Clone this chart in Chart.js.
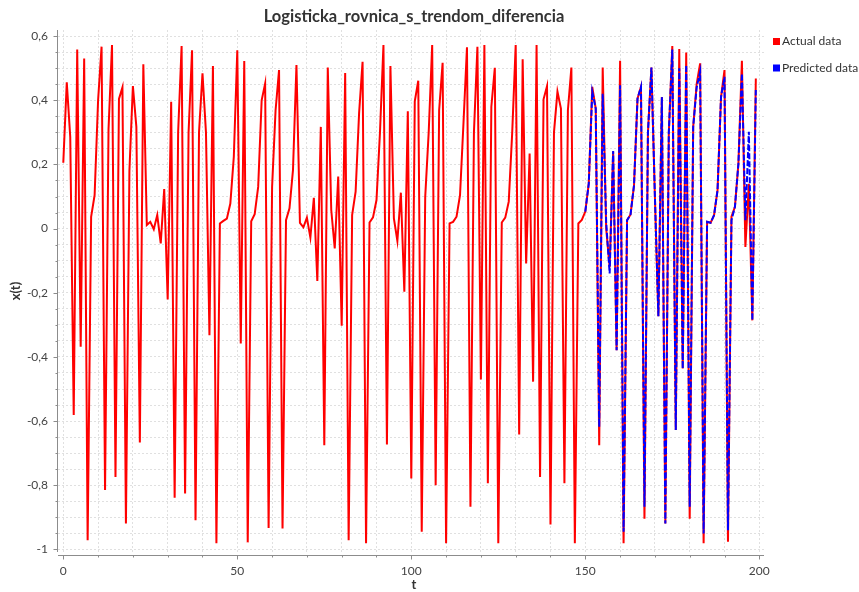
<!DOCTYPE html>
<html>
<head>
<meta charset="utf-8">
<script src="https://cdn.jsdelivr.net/npm/chart.js@4/dist/chart.umd.min.js"></script>
<style>
  html, body { margin: 0; padding: 0; background: #ffffff; }
  #wrap { width: 859px; height: 592px; }
</style>
</head>
<body>
<div id="wrap"><canvas id="chart" width="859" height="592"></canvas></div>
<script>
// ---- text ----
const chartTitle = 'Logisticka_rovnica_s_trendom_diferencia';
const xAxisTitle = 't';
const yAxisTitle = 'x(t)';
const seriesNames = ['Actual data', 'Predicted data'];

// ---- series values ----
const actualStart = 0;
const actualValues = [
  0.205, 0.456, 0.286, -0.581, 0.558, -0.368, 0.530, -0.971, 0.037, 0.104,
  0.400, 0.567, -0.815, 0.310, 0.572, -0.774, 0.404, 0.440, -0.919, 0.180,
  0.444, 0.317, -0.667, 0.512, 0.011, 0.021, -0.002, 0.042, -0.046, 0.123,
  -0.221, 0.395, -0.839, 0.300, 0.569, -0.826, 0.300, 0.556, -0.909, 0.300,
  0.484, 0.300, -0.332, 0.507, -0.981, 0.016, 0.024, 0.031, 0.078, 0.224,
  0.556, -0.358, 0.522, -0.978, 0.023, 0.045, 0.130, 0.400, 0.452, -0.933,
  0.130, 0.369, 0.494, -0.935, 0.026, 0.063, 0.182, 0.510, 0.018, 0.004,
  0.034, -0.028, 0.096, -0.163, 0.317, -0.675, 0.502, 0.058, -0.062, 0.162,
  -0.303, 0.485, -0.971, 0.042, 0.115, 0.360, 0.520, -0.981, 0.019, 0.035,
  0.089, 0.300, 0.572, -0.673, 0.507, 0.032, -0.038, 0.112, -0.197, 0.366,
  -0.779, 0.397, 0.461, -0.945, 0.099, 0.300, 0.572, -0.800, 0.369, 0.517,
  -0.981, 0.016, 0.021, 0.037, 0.104, 0.330, 0.565, -0.867, 0.300, 0.567,
  -0.470, 0.572, -0.794, 0.380, 0.501, -0.981, 0.019, 0.034, 0.084, 0.300,
  0.572, -0.642, 0.528, -0.109, 0.234, -0.477, 0.572, -0.774, 0.403, 0.444,
  -0.922, 0.300, 0.427, 0.374, -0.794, 0.369, 0.502, -0.981, 0.016, 0.027,
  0.053, 0.141, 0.442, 0.374, -0.675, 0.502, 0.000, -0.120, 0.240, -0.379,
  0.523, -0.981, 0.026, 0.044, 0.135, 0.405, 0.442, -0.904, 0.300, 0.502,
  0.100, -0.273, 0.410, -0.919, 0.300, 0.569, -0.628, 0.560, -0.436, 0.549,
  -0.904, 0.317, 0.450, 0.515, -0.981, 0.021, 0.018, 0.042, 0.120, 0.410,
  0.494, -0.976, 0.037, 0.068, 0.203, 0.523, -0.057, 0.140, -0.286, 0.468
];

const predictedStart = 150;
const predictedValues = [
  0.053, 0.141, 0.427, 0.374, -0.618, 0.420, 0.020, -0.140, 0.242, -0.379,
  0.447, -0.945, 0.026, 0.044, 0.135, 0.405, 0.442, -0.867, 0.300, 0.502,
  0.100, -0.273, 0.410, -0.919, 0.300, 0.558, -0.628, 0.500, -0.436, 0.510,
  -0.867, 0.317, 0.440, 0.489, -0.950, 0.021, 0.018, 0.042, 0.120, 0.410,
  0.473, -0.940, 0.026, 0.068, 0.203, 0.483, 0.026, 0.302, -0.286, 0.432
];

// ---- axes ----
const xRange = [-1.52, 201.35];
const yRange = [-1.008, 0.619];
const xGridStep = 10;
const yGridStep = 0.05;
const xLabelTicks = [0, 50, 100, 150, 200];
const yLabelTicks = [-1, -0.8, -0.6, -0.4, -0.2, 0, 0.2, 0.4, 0.6];

const FONT = 'Lato, "DejaVu Sans", sans-serif';
const TEXT = '#444444';
const AXIS = '#8c8c8c';
const GRID = '#e0e0e0';

function gridValues(lo, hi, step) {
  const out = [];
  const first = Math.ceil(lo / step - 1e-9);
  const last = Math.floor(hi / step + 1e-9);
  for (let k = first; k <= last; k++) out.push(+(k * step).toFixed(6));
  return out;
}
const isLabelled = (list, v) => list.some(t => Math.abs(t - v) < 1e-6);
const fmtY = v => (Math.abs(v - Math.round(v)) < 1e-6 ? String(Math.round(v)) : v.toFixed(1)).replace('.', ',');

const toPoints = (start, vals) => vals.map((v, i) => ({ x: start + i, y: v }));

// axis lines, tick marks, titles and legend
const decorations = {
  id: 'decorations',
  afterDraw(chart) {
    const { ctx, chartArea: a, scales: { x, y } } = chart;
    ctx.save();
    ctx.strokeStyle = AXIS;
    ctx.lineWidth = 1;
    const axisX = a.left - 0.5;
    const axisY = a.bottom + 3.5;
    ctx.beginPath();
    ctx.moveTo(axisX, a.top); ctx.lineTo(axisX, a.bottom);
    ctx.moveTo(a.left, axisY); ctx.lineTo(a.right, axisY);
    gridValues(xRange[0], xRange[1], xGridStep).forEach(v => {
      const px = Math.round(x.getPixelForValue(v)) + 0.5;
      const len = isLabelled(xLabelTicks, v) ? 4 : 2;
      ctx.moveTo(px, axisY); ctx.lineTo(px, axisY + len);
    });
    gridValues(yRange[0], yRange[1], yGridStep).forEach(v => {
      const py = Math.round(y.getPixelForValue(v)) + 0.5;
      const len = isLabelled(yLabelTicks, v) ? 4 : 2;
      ctx.moveTo(axisX, py); ctx.lineTo(axisX - len, py);
    });
    ctx.stroke();

    ctx.fillStyle = '#333333';
    ctx.textAlign = 'center';
    ctx.textBaseline = 'middle';
    ctx.font = 'bold 16.5px ' + FONT;
    ctx.fillText(chartTitle, (a.left + a.right) / 2 + 3, 17);

    ctx.font = 'bold 13px ' + FONT;
    ctx.fillText(xAxisTitle, (a.left + a.right) / 2 + 3, 585);
    ctx.save();
    ctx.translate(16, (a.top + a.bottom) / 2);
    ctx.rotate(-Math.PI / 2);
    ctx.fillText(yAxisTitle, 0, 0);
    ctx.restore();

    ctx.font = '12px ' + FONT;
    ctx.textAlign = 'left';
    chart.data.datasets.slice().sort((p, q) => p.legendIndex - q.legendIndex).forEach((ds, i) => {
      const cy = 41 + i * 26.5;
      ctx.fillStyle = ds.borderColor;
      ctx.fillRect(773, cy - 3, 7, 7);
      ctx.fillStyle = '#333333';
      ctx.fillText(ds.label, 782, cy + 0.5);
    });
    ctx.restore();
  }
};

new Chart(document.getElementById('chart'), {
  type: 'line',
  data: {
    datasets: [
      {
        label: seriesNames[1],
        legendIndex: 1,
        data: toPoints(predictedStart, predictedValues),
        borderColor: '#0000ff',
        borderWidth: 2,
        borderDash: [6, 2],
        pointRadius: 0,
        tension: 0,
        fill: false,
        order: 0
      },
      {
        label: seriesNames[0],
        legendIndex: 0,
        data: toPoints(actualStart, actualValues),
        borderColor: '#ff0000',
        borderWidth: 2,
        pointRadius: 0,
        tension: 0,
        fill: false,
        order: 1
      }
    ]
  },
  options: {
    responsive: false,
    animation: false,
    devicePixelRatio: 1,
    layout: { padding: { top: 30, right: 95, left: 0, bottom: 0 } },
    plugins: { legend: { display: false }, title: { display: false }, tooltip: { enabled: false } },
    scales: {
      x: {
        type: 'linear',
        min: xRange[0],
        max: xRange[1],
        afterBuildTicks: s => { s.ticks = gridValues(xRange[0], xRange[1], xGridStep).map(v => ({ value: v })); },
        afterFit: s => { s.height = 40; },
        grid: { color: GRID, lineWidth: 1, drawTicks: false },
        border: { display: false, dash: [2, 2] },
        ticks: {
          autoSkip: false, maxRotation: 0, padding: 12, color: TEXT,
          font: { family: FONT, size: 12 },
          callback: v => isLabelled(xLabelTicks, v) ? String(Math.round(v)) : ''
        }
      },
      y: {
        type: 'linear',
        min: yRange[0],
        max: yRange[1],
        afterBuildTicks: s => { s.ticks = gridValues(yRange[0], yRange[1], yGridStep).map(v => ({ value: v })); },
        afterFit: s => { s.width = 58; },
        grid: { color: GRID, lineWidth: 1, drawTicks: false },
        border: { display: false, dash: [2, 2] },
        ticks: {
          autoSkip: false, padding: 10, color: TEXT,
          font: { family: FONT, size: 12 },
          callback: v => isLabelled(yLabelTicks, v) ? fmtY(v) : ''
        }
      }
    }
  },
  plugins: [decorations]
});
</script>
</body>
</html>
